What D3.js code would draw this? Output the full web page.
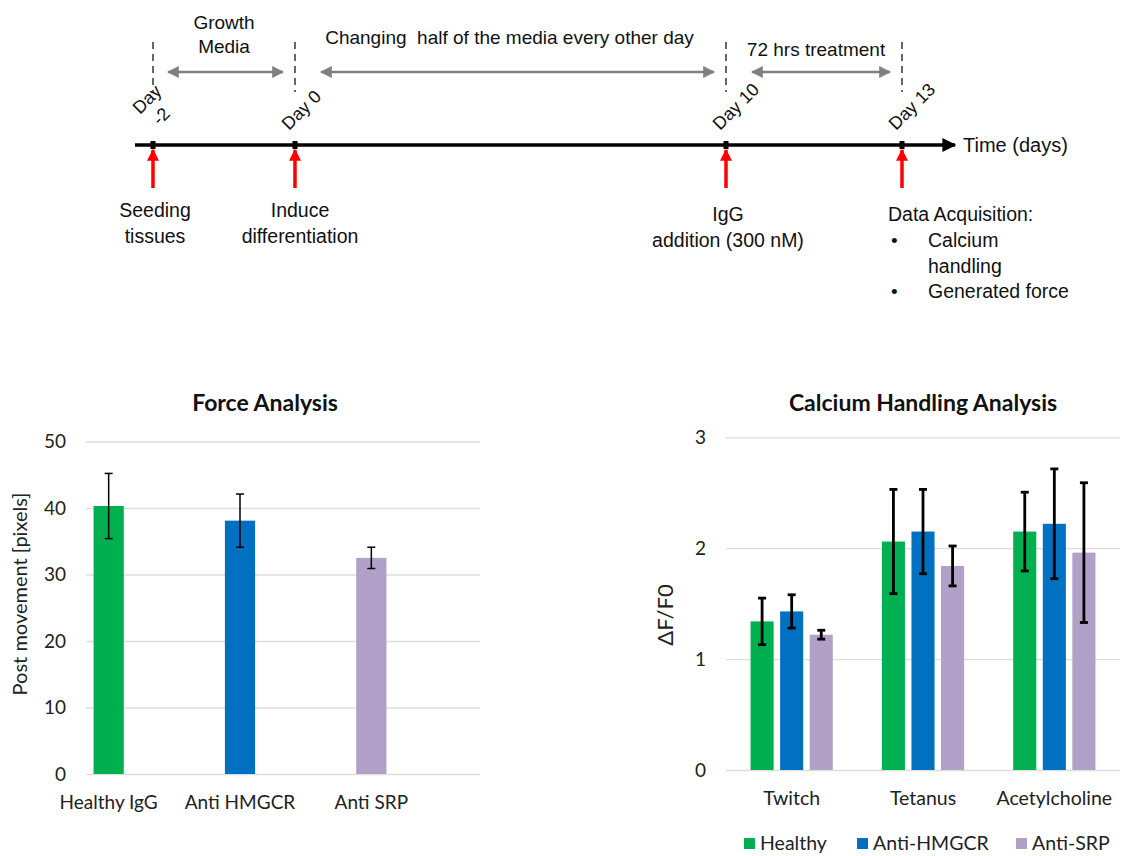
<!DOCTYPE html>
<html>
<head>
<meta charset="utf-8">
<script src="https://cdn.jsdelivr.net/npm/d3@7"></script>
<style>
  body { margin: 0; background: #fff; }
  svg { display: block; }
  text { white-space: pre; }
</style>
</head>
<body>
<svg id="fig" width="1122" height="856"></svg>
<script>
// ---- Timeline data ----
const timelineDays = [-2, 0, 10, 13];
const dayLabels = [['Day', '-2'], ['Day 0'], ['Day 10'], ['Day 13']];
const eventLabels = [
  ['Seeding', 'tissues'],
  ['Induce', 'differentiation'],
  ['IgG', 'addition (300 nM)'],
];
const periods = [
  {from: -2, to: 0, label: ['Growth', 'Media']},
  {from: 0, to: 10, label: ['Changing  half of the media every other day']},
  {from: 10, to: 13, label: ['72 hrs treatment']},
];
const acquisitionTitle = 'Data Acquisition:';
const acquisitionItems = [['Calcium', 'handling'], ['Generated force']];

// ---- Force analysis data ----
const forceCategories = ['Healthy IgG', 'Anti HMGCR', 'Anti SRP'];
const forceValues = [40.3, 38.1, 32.5];
const forceErrors = [4.9, 4.0, 1.6];
const forceTicks = [0, 10, 20, 30, 40, 50];

// ---- Calcium handling data ----
const calciumCategories = ['Twitch', 'Tetanus', 'Acetylcholine'];
const calciumSeries = ['Healthy', 'Anti-HMGCR', 'Anti-SRP'];
const calciumHealthy = [1.34, 2.06, 2.15];
const calciumHmgcr = [1.43, 2.15, 2.22];
const calciumSrp = [1.22, 1.84, 1.96];
const calciumHealthyErr = [0.21, 0.47, 0.355];
const calciumHmgcrErr = [0.15, 0.38, 0.495];
const calciumSrpErr = [0.04, 0.18, 0.63];
const calciumTicks = [0, 1, 2, 3];

const colors = ['#00b050', '#0070c0', '#b1a0c7'];
const chartFont = 'Lato, "Open Sans", sans-serif';
const diagramFont = '"Liberation Sans", Arial, sans-serif';

const svg = d3.select('#fig');

// Arrow head markers.
const defs = svg.append('defs');
function addMarker(id, color, w, h) {
  defs.append('marker')
      .attr('id', id)
      .attr('viewBox', '0 0 10 10')
      .attr('refX', 9).attr('refY', 5)
      .attr('markerUnits', 'userSpaceOnUse')
      .attr('markerWidth', w).attr('markerHeight', h)
      .attr('orient', 'auto-start-reverse')
      .append('path')
      .attr('d', 'M0,0 L10,5 L0,10 Z')
      .attr('fill', color);
}
addMarker('grayHead', '#7f7f7f', 12, 12);
addMarker('blackHead', '#000', 14, 14);
addMarker('redHead', '#ff0000', 12, 13);

// ================= Timeline =================
// Not drawn to scale in the figure, so use a piecewise scale.
const tx = d3.scaleLinear().domain(timelineDays).range([153, 295, 726, 902]);
const axisY = 145;
const tl = svg.append('g').attr('font-family', diagramFont).attr('fill', '#111');

tl.append('line')
    .attr('x1', 135).attr('x2', 955)
    .attr('y1', axisY).attr('y2', axisY)
    .attr('stroke', '#000').attr('stroke-width', 3.5)
    .attr('marker-end', 'url(#blackHead)');
tl.append('text')
    .attr('x', 963).attr('y', axisY + 7)
    .attr('font-size', 20)
    .text('Time (days)');

// Small tick squares on the axis.
tl.selectAll('rect.tick').data(timelineDays).join('rect')
    .attr('class', 'tick')
    .attr('x', d => tx(d) - 2.5).attr('y', axisY - 4)
    .attr('width', 5).attr('height', 8)
    .attr('fill', '#000');

// Dashed markers above the axis.
tl.selectAll('line.dash').data(timelineDays).join('line')
    .attr('class', 'dash')
    .attr('x1', d => tx(d)).attr('x2', d => tx(d))
    .attr('y1', 42).attr('y2', 92)
    .attr('stroke', '#666').attr('stroke-width', 2)
    .attr('stroke-dasharray', '7,5');

// Rotated day labels.
tl.selectAll('text.day').data(timelineDays).join('text')
    .attr('class', 'day')
    .attr('font-size', 18)
    .attr('transform', (d, i) => dayLabels[i].length > 1
        ? `translate(${tx(d) - 13},${axisY - 30}) rotate(-45)`
        : `translate(${tx(d) - 6},${axisY - 14}) rotate(-45)`)
    .each(function(d, i) {
      const lines = dayLabels[i];
      d3.select(this).selectAll('tspan').data(lines).join('tspan')
          .attr('x', (l, j) => j * 6)
          .attr('dy', (l, j) => j === 0 ? 0 : 22)
          .text(l => l);
    });

// Period double arrows.
tl.selectAll('line.period').data(periods).join('line')
    .attr('class', 'period')
    .attr('x1', d => tx(d.from) + (d.from === -2 ? 15 : 26))
    .attr('x2', d => tx(d.to) - 12)
    .attr('y1', 72).attr('y2', 72)
    .attr('stroke', '#7f7f7f').attr('stroke-width', 2.5)
    .attr('marker-start', 'url(#grayHead)')
    .attr('marker-end', 'url(#grayHead)');

tl.selectAll('text.period').data(periods).join('text')
    .attr('class', 'period')
    .attr('font-size', 19)
    .attr('text-anchor', 'middle')
    .attr('x', d => (tx(d.from) + tx(d.to)) / 2 + (d.from === 0 ? -1 : (d.from === -2 ? 0 : 2)))
    .attr('y', d => d.label.length > 1 ? 29 : (d.from === 0 ? 44 : 56))
    .each(function(d) {
      const cx = d3.select(this).attr('x');
      d3.select(this).selectAll('tspan').data(d.label).join('tspan')
          .attr('x', cx)
          .attr('dy', (l, j) => j === 0 ? 0 : 24)
          .text(l => l);
    });

// Red event arrows.
tl.selectAll('line.event').data(timelineDays).join('line')
    .attr('class', 'event')
    .attr('x1', d => tx(d)).attr('x2', d => tx(d))
    .attr('y1', 188).attr('y2', 150)
    .attr('stroke', '#ff0000').attr('stroke-width', 3.5)
    .attr('marker-end', 'url(#redHead)');

// Event labels under the first three arrows.
tl.selectAll('text.event').data(eventLabels).join('text')
    .attr('class', 'event')
    .attr('font-size', 19.5)
    .attr('text-anchor', 'middle')
    .attr('y', (d, i) => i === 2 ? 221 : 217)
    .each(function(d, i) {
      const cx = tx(timelineDays[i]) + (i === 1 ? 5 : 2);
      d3.select(this).selectAll('tspan').data(d).join('tspan')
          .attr('x', cx)
          .attr('dy', (l, j) => j === 0 ? 0 : 26)
          .text(l => l);
    });

// Data acquisition block.
const acqX = tx(13) - 14;
tl.append('text')
    .attr('x', acqX).attr('y', 221)
    .attr('font-size', 19.5)
    .text(acquisitionTitle);
let rowY = 247;
acquisitionItems.forEach(item => {
  tl.append('text').attr('x', acqX + 3).attr('y', rowY).attr('font-size', 19).text('•');
  item.forEach((line, j) => {
    tl.append('text')
        .attr('x', acqX + 40).attr('y', rowY + j * 25.5)
        .attr('font-size', 19.5)
        .text(line);
  });
  rowY += item.length * 25.5;
});

// ================= Force Analysis =================
const fy = d3.scaleLinear().domain([0, 50]).range([774, 441.5]);
const fx = d3.scaleBand().domain(forceCategories).range([43, 437]).paddingInner(0.77).paddingOuter(0.385);
const fg = svg.append('g').attr('font-family', chartFont);

fg.append('g')
    .attr('transform', 'translate(86,0)')
    .call(d3.axisLeft(fy).tickValues(forceTicks).tickSize(-394).tickPadding(20))
    .call(g => g.select('.domain').remove())
    .call(g => g.selectAll('.tick line').attr('stroke', '#dedede').attr('stroke-width', 1.3))
    .call(g => g.selectAll('.tick text').attr('font-size', 19).attr('fill', '#222').attr('font-family', chartFont));

fg.selectAll('rect.bar').data(forceValues).join('rect')
    .attr('class', 'bar')
    .attr('x', (d, i) => fx(forceCategories[i]))
    .attr('width', fx.bandwidth())
    .attr('y', d => fy(d))
    .attr('height', d => fy(0) - fy(d))
    .attr('fill', (d, i) => colors[i]);

function errorBars(g, xs, vals, errs, y, cap, width) {
  const eb = g.append('g').attr('stroke', '#000').attr('stroke-width', width);
  vals.forEach((v, i) => {
    const x = xs[i];
    eb.append('line').attr('x1', x).attr('x2', x).attr('y1', y(v + errs[i])).attr('y2', y(v - errs[i]));
    eb.append('line').attr('x1', x - cap).attr('x2', x + cap).attr('y1', y(v + errs[i])).attr('y2', y(v + errs[i]));
    eb.append('line').attr('x1', x - cap).attr('x2', x + cap).attr('y1', y(v - errs[i])).attr('y2', y(v - errs[i]));
  });
}
errorBars(fg, forceCategories.map(c => fx(c) + fx.bandwidth() / 2), forceValues, forceErrors, fy, 4, 1.5);

fg.selectAll('text.cat').data(forceCategories).join('text')
    .attr('class', 'cat')
    .attr('x', d => fx(d) + fx.bandwidth() / 2)
    .attr('y', 809)
    .attr('text-anchor', 'middle')
    .attr('font-size', 19).attr('fill', '#222')
    .text(d => d);

fg.append('text')
    .attr('x', 265).attr('y', 411)
    .attr('text-anchor', 'middle')
    .attr('font-size', 23).attr('font-weight', 'bold').attr('fill', '#111')
    .text('Force Analysis');

fg.append('text')
    .attr('transform', 'translate(27,594) rotate(-90)')
    .attr('text-anchor', 'middle')
    .attr('font-size', 20).attr('fill', '#222')
    .text('Post movement [pixels]');

// ================= Calcium Handling Analysis =================
const cy = d3.scaleLinear().domain([0, 3]).range([770, 437.3]);
const cx0 = d3.scaleBand().domain(calciumCategories).range([726, 1120]);
const cx1 = d3.scaleBand().domain(calciumSeries).range([0, cx0.bandwidth()]).paddingInner(0.22).paddingOuter(0.83);
const cg = svg.append('g').attr('font-family', chartFont);

cg.append('g')
    .attr('transform', 'translate(726,0)')
    .call(d3.axisLeft(cy).tickValues(calciumTicks).tickFormat(d3.format('d')).tickSize(-394).tickPadding(20))
    .call(g => g.select('.domain').remove())
    .call(g => g.selectAll('.tick line').attr('stroke', '#dedede').attr('stroke-width', 1.3))
    .call(g => g.selectAll('.tick text').attr('font-size', 19).attr('fill', '#222').attr('font-family', chartFont));

const calciumValues = [calciumHealthy, calciumHmgcr, calciumSrp];
const calciumErrors = [calciumHealthyErr, calciumHmgcrErr, calciumSrpErr];

calciumSeries.forEach((s, si) => {
  cg.append('g').selectAll('rect').data(calciumValues[si]).join('rect')
      .attr('x', (d, i) => cx0(calciumCategories[i]) + cx1(s))
      .attr('width', cx1.bandwidth())
      .attr('y', d => cy(d))
      .attr('height', d => cy(0) - cy(d))
      .attr('fill', colors[si]);
});
calciumSeries.forEach((s, si) => {
  errorBars(cg,
      calciumCategories.map(c => cx0(c) + cx1(s) + cx1.bandwidth() / 2),
      calciumValues[si], calciumErrors[si], cy, 4, 2.8);
});

cg.selectAll('text.cat').data(calciumCategories).join('text')
    .attr('class', 'cat')
    .attr('x', d => cx0(d) + cx0.bandwidth() / 2)
    .attr('y', 805)
    .attr('text-anchor', 'middle')
    .attr('font-size', 19.5).attr('fill', '#222')
    .text(d => d);

cg.append('text')
    .attr('x', 923).attr('y', 411)
    .attr('text-anchor', 'middle')
    .attr('font-size', 23).attr('font-weight', 'bold').attr('fill', '#111')
    .text('Calcium Handling Analysis');

cg.append('text')
    .attr('transform', 'translate(673,615) rotate(-90)')
    .attr('text-anchor', 'middle')
    .attr('font-size', 22).attr('fill', '#222')
    .text('ΔF/F0');

// Legend
const legendX = [744, 857, 1016];
const legend = cg.selectAll('g.legend').data(calciumSeries).join('g')
    .attr('class', 'legend')
    .attr('transform', (d, i) => `translate(${legendX[i]},838)`);
legend.append('rect').attr('width', 11).attr('height', 11).attr('fill', (d, i) => colors[i]);
legend.append('text')
    .attr('x', 16).attr('y', 12)
    .attr('font-size', 19.5).attr('fill', '#222')
    .text(d => d);
</script>
</body>
</html>
